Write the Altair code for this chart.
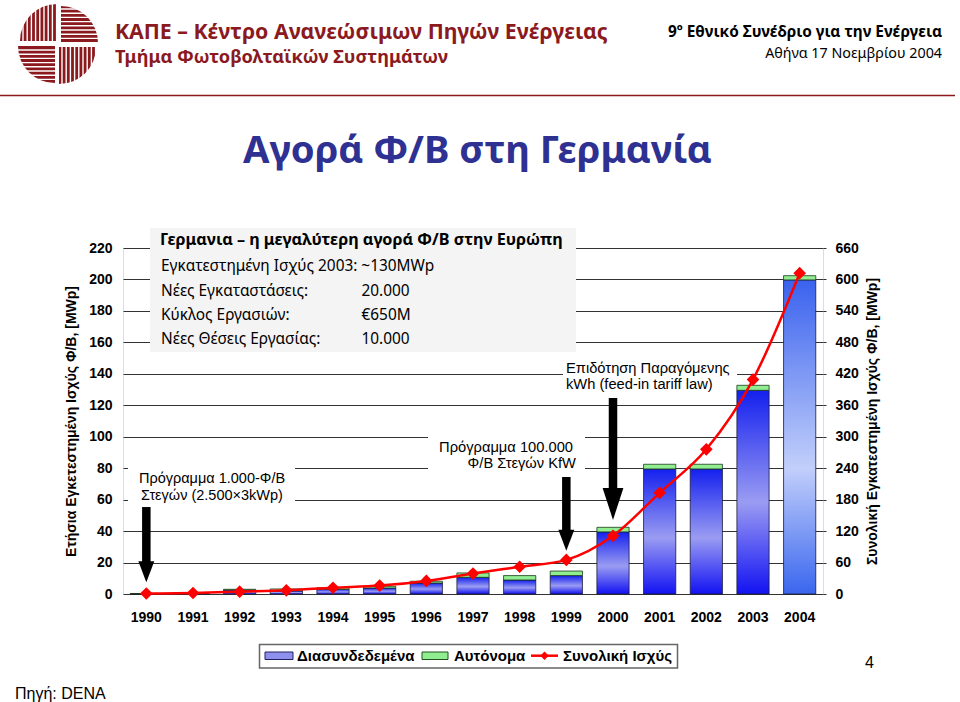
import altair as alt
import pandas as pd
import numpy as np

# ---------------- data ----------------
years = [str(y) for y in range(1990, 2005)]
grid_connected = [0.3, 0.3, 2.5, 2.0, 3.0, 3.8, 7.0, 10.6, 8.9, 11.7, 39.5, 79.5, 79.5, 129.5, 199.7]
stand_alone = [0.0, 0.0, 0.5, 1.2, 1.0, 1.1, 1.1, 2.8, 2.8, 2.9, 2.9, 3.0, 3.0, 3.2, 2.7]
cumulative = [1, 2, 4.5, 7, 12, 16, 25, 39, 52, 65, 111, 193, 276, 409, 612]

left_ticks = list(range(0, 221, 20))
right_ticks = list(range(0, 661, 60))

arrow_years = ["1990", "1999", "2000"]
arrow_top = [55.3, 74.4, 124.6]
arrow_tip = [7.4, 27.5, 47.1]

box_heading = "Γερμανια – η μεγαλύτερη αγορά Φ/Β στην Ευρώπη"
box_labels = ["Εγκατεστημένη Ισχύς 2003: ~130MWp", "Νέες Εγκαταστάσεις:", "Κύκλος Εργασιών:", "Νέες Θέσεις Εργασίας:"]
box_values = ["", "20.000", "€650M", "10.000"]

# ---------------- layout constants ----------------
W, H = 700, 346
X0, Y0 = 123, 248
SANS = "Liberation Sans"
TAH = "Noto Sans"
RED = "#8b1a1f"

df = pd.DataFrame({"year": years, "grid": grid_connected, "stand": stand_alone, "cum": cumulative})
df["top"] = df["grid"] + df["stand"]
arr = pd.DataFrame({"year": arrow_years, "top": arrow_top, "tip": arrow_tip})
one = pd.DataFrame({"k": [0]})

x_enc = alt.X("year:O",
              scale=alt.Scale(paddingInner=0.31, paddingOuter=0.155),
              axis=alt.Axis(title=None, labelAngle=0, labelFont=SANS, labelFontSize=14,
                            labelFontWeight="bold", labelColor="black", labelPadding=16,
                            ticks=False, domain=False, grid=False))
yL = alt.Scale(domain=[0, 220], nice=False)
yR = alt.Scale(domain=[0, 660], nice=False)

left_axis = alt.Axis(values=left_ticks, title="Ετήσια Εγκετεστημένη Ισχύς Φ/Β, [MWp]",
                     titleFont=SANS, titleFontSize=14, titleFontWeight="bold", titleColor="black",
                     titlePadding=10, labelFont=SANS, labelFontSize=14, labelFontWeight="bold",
                     labelColor="black", labelPadding=11, ticks=False, domain=False,
                     grid=True, gridColor="#333333", gridWidth=1)
right_axis = alt.Axis(orient="right", values=right_ticks,
                      title="Συνολική Εγκατεστημένη Ισχύς Φ/Β, [MWp]",
                      titleAngle=270, titleBaseline="top",
                      titleFont=SANS, titleFontSize=14, titleFontWeight="bold", titleColor="black",
                      titlePadding=7, labelFont=SANS, labelFontSize=14, labelFontWeight="bold",
                      labelColor="black", labelPadding=9, ticks=True, tickSize=3,
                      tickColor="#333333", domain=False, grid=False)

grad1 = alt.Gradient(gradient="linear", x1=0, x2=0, y1=0, y2=1, stops=[
    alt.GradientStop(color="#1420ee", offset=0),
    alt.GradientStop(color="#9a9cf2", offset=0.55),
    alt.GradientStop(color="#1212f2", offset=1)])
grad2 = alt.Gradient(gradient="linear", x1=0, x2=0, y1=0, y2=1, stops=[
    alt.GradientStop(color="#3a62ee", offset=0),
    alt.GradientStop(color="#c2cffb", offset=0.6),
    alt.GradientStop(color="#3a66ee", offset=1)])


def txt(s, x, y, size=14, font=SANS, weight="normal", color="black", align="left"):
    return alt.Chart(one).mark_text(text=s, fontSize=size, font=font, fontWeight=weight,
                                    color=color, align=align, baseline="alphabetic").encode(
        x=alt.value(x - X0), y=alt.value(y - Y0))


def rect(x1, y1, x2, y2, fill, stroke=None, sw=1):
    kw = dict(fill=fill)
    if stroke:
        kw.update(stroke=stroke, strokeWidth=sw)
    return alt.Chart(one).mark_rect(**kw).encode(
        x=alt.value(x1 - X0), x2=alt.value(x2 - X0), y=alt.value(y1 - Y0), y2=alt.value(y2 - Y0))


def hrule(x1, x2, y, color, sw):
    return alt.Chart(one).mark_rule(color=color, strokeWidth=sw).encode(
        x=alt.value(x1 - X0), x2=alt.value(x2 - X0), y=alt.value(y - Y0))


layers = []

# text box and annotation backgrounds
layers.append(rect(150, 228, 576, 352, "#f4f4f4"))
layers.append(rect(128, 460, 295, 507, "white"))
layers.append(rect(428, 430, 585, 476, "white"))
layers.append(rect(563, 356, 737, 394, "white"))

# bars
base = alt.Chart(df)
layers.append(base.transform_filter(alt.datum.year != "2004").mark_bar(
    color=grad1, stroke="#1a1a3a", strokeWidth=0.8).encode(
    x=x_enc, y=alt.Y("grid:Q", scale=yL, axis=left_axis)))
layers.append(base.transform_filter(alt.datum.year == "2004").mark_bar(
    color=grad2, stroke="#1a1a3a", strokeWidth=0.8).encode(
    x=x_enc, y=alt.Y("grid:Q", scale=yL, axis=None)))
layers.append(base.mark_bar(color="#90ee90", stroke="#1a3a1a", strokeWidth=0.8).encode(
    x=x_enc, y=alt.Y("grid:Q", scale=yL, axis=None), y2="top:Q"))

# cumulative line
layers.append(base.mark_line(color="#ff0000", strokeWidth=2.5, interpolate="monotone").encode(
    x=x_enc, y=alt.Y("cum:Q", scale=yR, axis=right_axis)))
layers.append(base.mark_point(shape="diamond", filled=True, size=160, color="#ff0000", opacity=1).encode(
    x=x_enc, y=alt.Y("cum:Q", scale=yR, axis=None)))

# arrows
small = alt.Chart(arr).transform_filter(alt.datum.year != "2000")
big = alt.Chart(arr).transform_filter(alt.datum.year == "2000")
layers.append(small.mark_rule(color="black", strokeWidth=8.5, strokeCap="butt", y2Offset=-18).encode(
    x=x_enc, y=alt.Y("top:Q", scale=yL, axis=None), y2="tip:Q"))
layers.append(small.mark_point(shape="M-0.76,-2L0.76,-2L0,0Z", size=441, filled=True, color="black",
                               opacity=1, strokeWidth=0).encode(
    x=x_enc, y=alt.Y("tip:Q", scale=yL, axis=None)))
layers.append(big.mark_rule(color="black", strokeWidth=8.5, strokeCap="butt", y2Offset=-29).encode(
    x=x_enc, y=alt.Y("top:Q", scale=yL, axis=None), y2="tip:Q"))
layers.append(big.mark_point(shape="M-0.65,-2L0.65,-2L0,0Z", size=1024, filled=True, color="black",
                             opacity=1, strokeWidth=0).encode(
    x=x_enc, y=alt.Y("tip:Q", scale=yL, axis=None)))

# box texts
layers.append(txt(box_heading, 160, 245, size=16.2, font=TAH, weight="bold"))
box_y = [270.7, 295.5, 320, 344]
for lab, val, yy in zip(box_labels, box_values, box_y):
    layers.append(txt(lab, 161, yy, size=15.4, font=TAH))
    if val:
        layers.append(txt(val, 361.5, yy, size=15.4, font=TAH))

# annotations
layers.append(txt("Πρόγραμμα 1.000-Φ/Β", 212, 483, size=14.5, align="center"))
layers.append(txt("Στεγών (2.500×3kWp)", 212, 499.5, size=14.5, align="center"))
layers.append(txt("Πρόγραμμα 100.000", 573, 451.7, size=14.7, align="right"))
layers.append(txt("Φ/Β Στεγών KfW", 576, 468.3, size=14.7, align="right"))
layers.append(txt("Επιδότηση Παραγόμενης", 566, 373, size=14.7))
layers.append(txt("kWh (feed-in tariff law)", 566, 388.5, size=14.7))

# header
logo_parts = [(57, 41, 3 * np.pi / 2, 2 * np.pi), (61, 43, 0, np.pi / 2),
              (59, 47, np.pi / 2, np.pi), (55, 46, np.pi, 3 * np.pi / 2)]
for cx, cy, t1, t2 in logo_parts:
    layers.append(alt.Chart(one).mark_arc(outerRadius=37, color=RED).encode(
        x=alt.value(cx - X0), y=alt.value(cy - Y0), theta=alt.value(float(t1)), theta2=alt.value(float(t2))))
stripes = []
for sx in np.arange(23, 57, 4.2):
    stripes.append((sx, sx, 3, 41))
for sx in np.arange(62, 97, 4.2):
    stripes.append((sx, sx, 47, 85))
for sy in np.arange(9, 43, 4.2):
    stripes.append((61, 99, sy, sy))
for sy in np.arange(50, 84, 4.2):
    stripes.append((17, 55, sy, sy))
st = pd.DataFrame(stripes, columns=["xa", "xb", "ya", "yb"])
st[["xa", "xb"]] -= X0
st[["ya", "yb"]] -= Y0
layers.append(alt.Chart(st).mark_rule(color="white", strokeWidth=1.4).encode(
    x=alt.X("xa:Q", scale=None, axis=None), x2="xb:Q",
    y=alt.Y("ya:Q", scale=None, axis=None), y2="yb:Q"))

layers.append(txt("ΚΑΠΕ – Κέντρο Ανανεώσιμων Πηγών Ενέργειας", 115, 39, size=21.3, font=TAH,
                  weight="bold", color=RED))
layers.append(txt("Τμήμα Φωτοβολταϊκών Συστημάτων", 115, 63, size=18.2, font=TAH, weight="bold", color=RED))
layers.append(txt("9º Εθνικό Συνέδριο για την Ενέργεια", 942, 36.5, size=15.4, font=TAH,
                  weight="bold", align="right"))
layers.append(txt("Αθήνα 17 Νοεμβρίου 2004", 942, 57.5, size=14.3, font=TAH, align="right"))
layers.append(hrule(0, 955, 95.5, RED, 1.5))

layers.append(txt("Αγορά Φ/Β στη Γερμανία", 477.5, 163, size=38.3, font=TAH, weight="bold",
                  color="#2e3192", align="center"))

# legend
layers.append(rect(259.5, 644.5, 677.5, 668, "white", stroke="#666666", sw=1.5))
layers.append(rect(265, 652, 293, 659.5, "#8f90ee", stroke="#202060", sw=1))
layers.append(txt("Διασυνδεδεμένα", 297, 661, size=15, weight="bold"))
layers.append(rect(422, 652, 448, 659.5, "#90ee90", stroke="#205020", sw=1))
layers.append(txt("Αυτόνομα", 454, 661, size=15, weight="bold"))
layers.append(hrule(531, 558, 655.7, "#ff0000", 2.5))
layers.append(alt.Chart(one).mark_point(shape="diamond", filled=True, size=70, color="#ff0000", opacity=1).encode(
    x=alt.value(544.5 - X0), y=alt.value(655.7 - Y0)))
layers.append(txt("Συνολική Ισχύς", 563, 661, size=15, weight="bold"))

# footer
layers.append(txt("4", 865, 668, size=16))
layers.append(txt("Πηγή: DENA", 15, 699.3, size=16))
layers.append(hrule(15, 53, 703, "black", 1))

chart = alt.layer(*layers).resolve_scale(y="independent").properties(
    width=W, height=H,
    padding={"left": X0, "top": Y0, "right": 960 - X0 - W, "bottom": 702 - Y0 - H},
    autosize=alt.AutoSizeParams(type="none"),
).configure_view(stroke=None).configure(background="white")

chart.save("out.html", embed_options={"renderer": "svg", "actions": False})
